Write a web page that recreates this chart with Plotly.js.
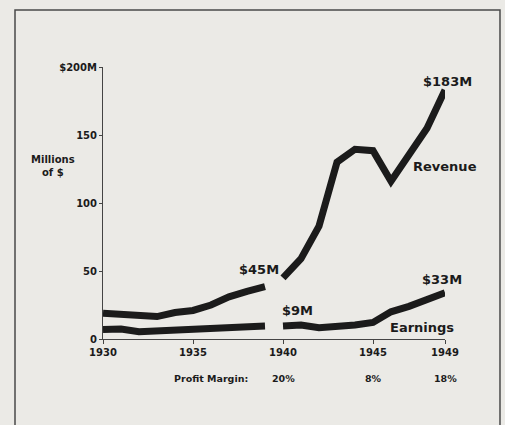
<!DOCTYPE html>
<html>
<head>
<meta charset="utf-8">
<script src="https://cdn.plot.ly/plotly-3.0.1.min.js"></script>
<style>
  html, body { margin: 0; padding: 0; background: #ebeae6; }
  #chart { width: 505px; height: 425px; }
</style>
</head>
<body>
<div id="chart"></div>
<script>
// ---- data ----
var yearsPre = [1930, 1931, 1932, 1933, 1934, 1935, 1936, 1937, 1938, 1939];
var yearsPost = [1940, 1941, 1942, 1943, 1944, 1945, 1946, 1947, 1948, 1949];
var revenuePre = [19, 18, 17, 16.5, 19.5, 21, 25, 31, 35, 38.5];
var revenuePost = [45, 59, 83, 130, 139.5, 138.5, 116, 135, 155, 183];
var earningsPre = [7, 7.4, 5.4, 6, 6.6, 7.8, 8, 9, 9.8, 9.5];
var earningsPost = [9.5, 10.3, 8.3, 9, 10.3, 12.2, 20, 24, 28.5, 34];
var xTickVals = [1930, 1935, 1940, 1945, 1949];
var xTickText = ["1930", "1935", "1940", "1945", "1949"];
var yTickVals = [0, 50, 100, 150, 200];
var yTickText = ["0", "50", "100", "150", "$200M"];
var marginYears = [1940, 1945, 1949];
var marginText = ["20%", "8%", "18%"];
var seriesLabels = ["$45M", "$183M", "Revenue", "$33M", "$9M", "Earnings"];

var ink = "#1b1b1b";
var FONT = "DejaVu Sans";
var lineStyle = { color: ink, width: 7 };

function seg(x, y) {
  return { x: x, y: y, type: "scatter", mode: "lines", line: lineStyle,
           hoverinfo: "skip", showlegend: false };
}

var traces = [
  seg(yearsPre, revenuePre),
  seg(yearsPost, revenuePost),
  seg(yearsPre, earningsPre),
  seg(yearsPost, earningsPost)
];

var labelPos = [
  [0.456, 0.257], [1.006, 0.945], [1.0, 0.636],
  [0.991, 0.217], [0.570, 0.103], [0.933, 0.044]
];

var annotations = seriesLabels.map(function (t, i) {
  return { text: "<b>" + t + "</b>", xref: "paper", yref: "paper",
           x: labelPos[i][0], y: labelPos[i][1], xanchor: "center", yanchor: "middle",
           showarrow: false, font: { family: FONT, size: 13, color: ink } };
});

annotations.push({ text: "<b>Millions<br>of $</b>", xref: "paper", yref: "paper",
  x: -0.146, y: 0.636, xanchor: "center", yanchor: "middle", showarrow: false,
  font: { family: FONT, size: 10, color: ink } });

annotations.push({ text: "<b>Profit Margin:</b>", xref: "paper", yref: "paper",
  x: 0.43, y: -0.147, xanchor: "right", yanchor: "middle", showarrow: false,
  font: { family: FONT, size: 9.5, color: ink } });

marginYears.forEach(function (yr, i) {
  annotations.push({ text: "<b>" + marginText[i] + "</b>", xref: "x", yref: "paper",
    x: yr, y: -0.147, xanchor: "center", yanchor: "middle", showarrow: false,
    font: { family: FONT, size: 9.5, color: ink } });
});

var layout = {
  width: 505, height: 425,
  margin: { l: 103, r: 60, t: 67, b: 86, pad: 0 },
  paper_bgcolor: "#ebeae6",
  plot_bgcolor: "rgba(0,0,0,0)",
  showlegend: false,
  font: { family: FONT, color: ink },
  xaxis: {
    range: [1930, 1949], showgrid: false, zeroline: false,
    showline: true, linecolor: "#444", linewidth: 1,
    ticks: "outside", ticklen: 4, tickcolor: "#444", tickwidth: 1,
    tickvals: xTickVals, ticktext: xTickText,
    tickfont: { family: FONT, size: 10, color: ink, weight: "bold" },
    fixedrange: true
  },
  yaxis: {
    range: [0, 200], showgrid: false, zeroline: false,
    showline: true, linecolor: "#444", linewidth: 1,
    ticks: "outside", ticklen: 3, tickcolor: "#444", tickwidth: 1,
    tickvals: yTickVals, ticktext: yTickText,
    tickfont: { family: FONT, size: 10, color: ink, weight: "bold" },
    fixedrange: true
  },
  annotations: annotations,
  shapes: [{
    type: "rect", xref: "paper", yref: "paper",
    x0: -0.2573, x1: 1.1608, y0: -0.40, y1: 1.2096,
    line: { color: "#4a4a4a", width: 1.5 }, fillcolor: "rgba(0,0,0,0)", layer: "below"
  }]
};

Plotly.newPlot("chart", traces, layout, { staticPlot: true, displayModeBar: false });
</script>
</body>
</html>
